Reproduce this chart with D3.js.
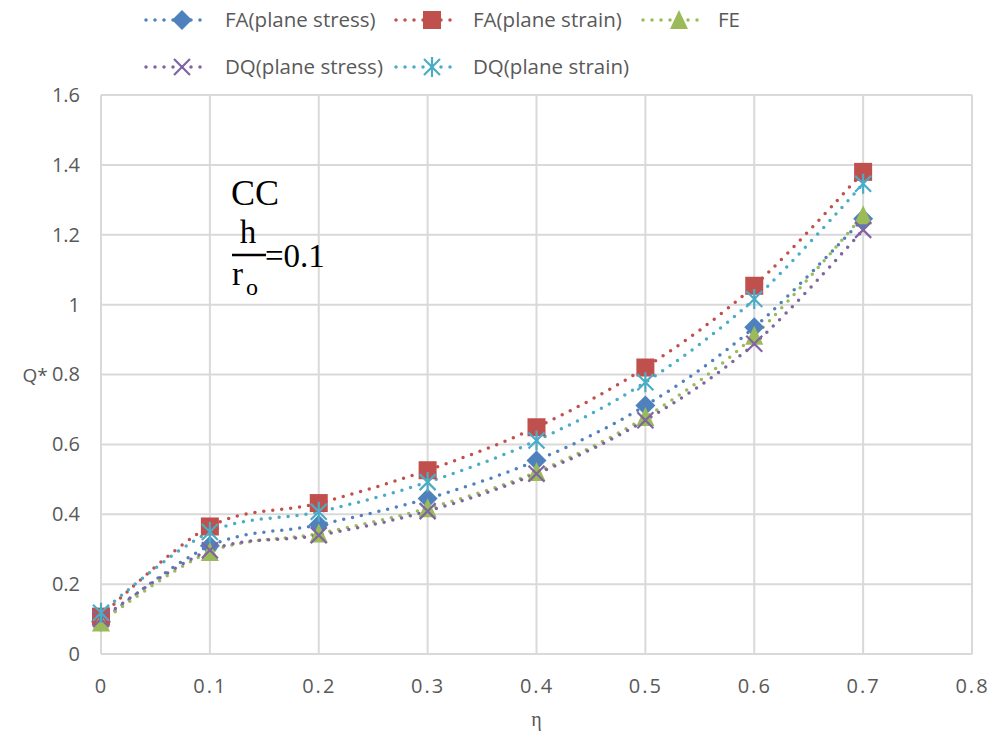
<!DOCTYPE html>
<html>
<head>
<meta charset="utf-8">
<script src="https://cdn.jsdelivr.net/npm/d3@7"></script>
<style>
  body { margin: 0; background: #fff; }
  text { font-family: "Open Sans", "Noto Sans", sans-serif; }
  text.serif { font-family: "Liberation Serif", "Times New Roman", serif; }
</style>
</head>
<body>
<div id="chart"></div>
<script>
// Data
var eta = [0, 0.1, 0.2, 0.3, 0.4, 0.5, 0.6, 0.7];
var faStress = [0.092, 0.31, 0.37, 0.445, 0.554, 0.711, 0.935, 1.246];
var faStrain = [0.107, 0.365, 0.432, 0.526, 0.649, 0.82, 1.054, 1.38];
var fe = [0.09, 0.292, 0.345, 0.417, 0.521, 0.678, 0.911, 1.256];
var dqStress = [0.1, 0.297, 0.34, 0.409, 0.516, 0.669, 0.888, 1.214];
var dqStrain = [0.118, 0.349, 0.407, 0.492, 0.611, 0.778, 1.016, 1.346];
var xTicks = [0, 0.1, 0.2, 0.3, 0.4, 0.5, 0.6, 0.7, 0.8];
var yTicks = [0, 0.2, 0.4, 0.6, 0.8, 1, 1.2, 1.4, 1.6];

var series = [
  {name: "FA(plane stress)", values: faStress, color: "#4F81BD", marker: "diamond"},
  {name: "FA(plane strain)", values: faStrain, color: "#C0504D", marker: "square"},
  {name: "FE", values: fe, color: "#9BBB59", marker: "triangle"},
  {name: "DQ(plane stress)", values: dqStress, color: "#8064A2", marker: "x"},
  {name: "DQ(plane strain)", values: dqStrain, color: "#4BACC6", marker: "star"}
];

var width = 992, height = 738;
var margin = {top: 95, right: 20, bottom: 84, left: 101};

var svg = d3.select("#chart")
  .append("svg")
    .attr("width", width)
    .attr("height", height);

var x = d3.scaleLinear()
  .domain([0, 0.8])
  .range([margin.left, width - margin.right]);
var y = d3.scaleLinear()
  .domain([0, 1.6])
  .range([height - margin.bottom, margin.top]);

// Gridlines
svg.append("g")
  .selectAll("line")
  .data(yTicks)
  .join("line")
    .attr("x1", x(0)).attr("x2", x(0.8))
    .attr("y1", d => y(d)).attr("y2", d => y(d))
    .attr("stroke", "#D9D9D9")
    .attr("stroke-width", 2);
svg.append("g")
  .selectAll("line")
  .data(xTicks)
  .join("line")
    .attr("x1", d => x(d)).attr("x2", d => x(d))
    .attr("y1", y(0)).attr("y2", y(1.6))
    .attr("stroke", "#D9D9D9")
    .attr("stroke-width", 2);

// Axes (labels only, Excel style)
var xAxis = svg.append("g")
  .attr("transform", `translate(0,${y(0)})`)
  .call(d3.axisBottom(x).tickValues(xTicks).tickSize(0).tickPadding(25)
    .tickFormat(d => d === 0 ? "0" : d3.format(".1f")(d)));
var yAxis = svg.append("g")
  .attr("transform", `translate(${x(0)},0)`)
  .call(d3.axisLeft(y).tickValues(yTicks).tickSize(0).tickPadding(21)
    .tickFormat(d => d3.format("~g")(d)));
[xAxis, yAxis].forEach(function(a) {
  a.select(".domain").remove();
  a.selectAll("text")
    .attr("fill", "#595959")
    .style("font-size", "20px");
});
xAxis.selectAll("text").style("letter-spacing", "2px");

// Axis titles
svg.append("text")
  .attr("x", 35).attr("y", y(0.8) + 7)
  .attr("text-anchor", "middle")
  .attr("fill", "#595959")
  .style("font-size", "19px")
  .text("Q*");
svg.append("text")
  .attr("class", "serif")
  .attr("x", (x(0) + x(0.8)) / 2).attr("y", 726)
  .attr("text-anchor", "middle")
  .attr("fill", "#595959")
  .style("font-size", "20px")
  .text("η");

// Marker shapes
function drawMarker(g, type, color) {
  if (type === "diamond") {
    g.append("path").attr("d", "M0,-10L10,0L0,10L-10,0Z").attr("fill", color);
  } else if (type === "square") {
    g.append("rect").attr("x", -9).attr("y", -9).attr("width", 18).attr("height", 18).attr("fill", color);
  } else if (type === "triangle") {
    g.append("path").attr("d", "M0,-10L9,9L-9,9Z").attr("fill", color);
  } else if (type === "x") {
    g.append("path").attr("d", "M-8,-8L8,8M-8,8L8,-8")
      .attr("stroke", color).attr("stroke-width", 2.2).attr("fill", "none");
  } else if (type === "star") {
    g.append("path").attr("d", "M-8,-8L8,8M-8,8L8,-8M0,-10L0,10")
      .attr("stroke", color).attr("stroke-width", 2.2).attr("fill", "none");
  }
}

var line = d3.line()
  .x((d, i) => x(eta[i]))
  .y(d => y(d))
  .curve(d3.curveCardinal.tension(0));

series.forEach(function(s) {
  svg.append("path")
    .datum(s.values)
    .attr("fill", "none")
    .attr("stroke", s.color)
    .attr("stroke-width", 3.5)
    .attr("stroke-linecap", "round")
    .attr("stroke-dasharray", "0,9")
    .attr("d", line);
});
series.forEach(function(s) {
  s.values.forEach(function(v, i) {
    var g = svg.append("g").attr("transform", `translate(${x(eta[i])},${y(v)})`);
    drawMarker(g, s.marker, s.color);
  });
});

// Legend
var legendPos = [
  {x: 146, y: 20, tx: 225}, {x: 396, y: 20, tx: 473}, {x: 643, y: 20, tx: 718},
  {x: 146, y: 67, tx: 225}, {x: 396, y: 67, tx: 473}
];
series.forEach(function(s, i) {
  var p = legendPos[i];
  var lg = svg.append("g");
  lg.append("line")
    .attr("x1", p.x).attr("x2", p.x + 63)
    .attr("y1", p.y).attr("y2", p.y)
    .attr("stroke", s.color)
    .attr("stroke-width", 3.5)
    .attr("stroke-linecap", "round")
    .attr("stroke-dasharray", "0,9");
  var m = lg.append("g").attr("transform", `translate(${p.x + 36},${p.y})`);
  drawMarker(m, s.marker, s.color);
  lg.append("text")
    .attr("x", p.tx).attr("y", p.y + 7)
    .attr("fill", "#595959")
    .style("font-size", "20.5px")
    .text(s.name);
});

// Annotation
var ann = svg.append("g").attr("fill", "#000");
ann.append("text").attr("class", "serif").attr("x", 231).attr("y", 205).style("font-size", "36px").text("CC");
ann.append("text").attr("class", "serif").attr("x", 248).attr("y", 243).attr("text-anchor", "middle")
  .style("font-size", "33px").text("h");
ann.append("line").attr("x1", 232).attr("x2", 266).attr("y1", 255).attr("y2", 255)
  .attr("stroke", "#000").attr("stroke-width", 2.5);
ann.append("text").attr("class", "serif").attr("x", 232).attr("y", 285)
  .style("font-size", "33px").text("r");
ann.append("text").attr("class", "serif").attr("x", 246).attr("y", 295)
  .style("font-size", "24px").text("o");
ann.append("text").attr("class", "serif").attr("x", 265).attr("y", 267)
  .style("font-size", "33px").text("=0.1");
</script>
</body>
</html>
